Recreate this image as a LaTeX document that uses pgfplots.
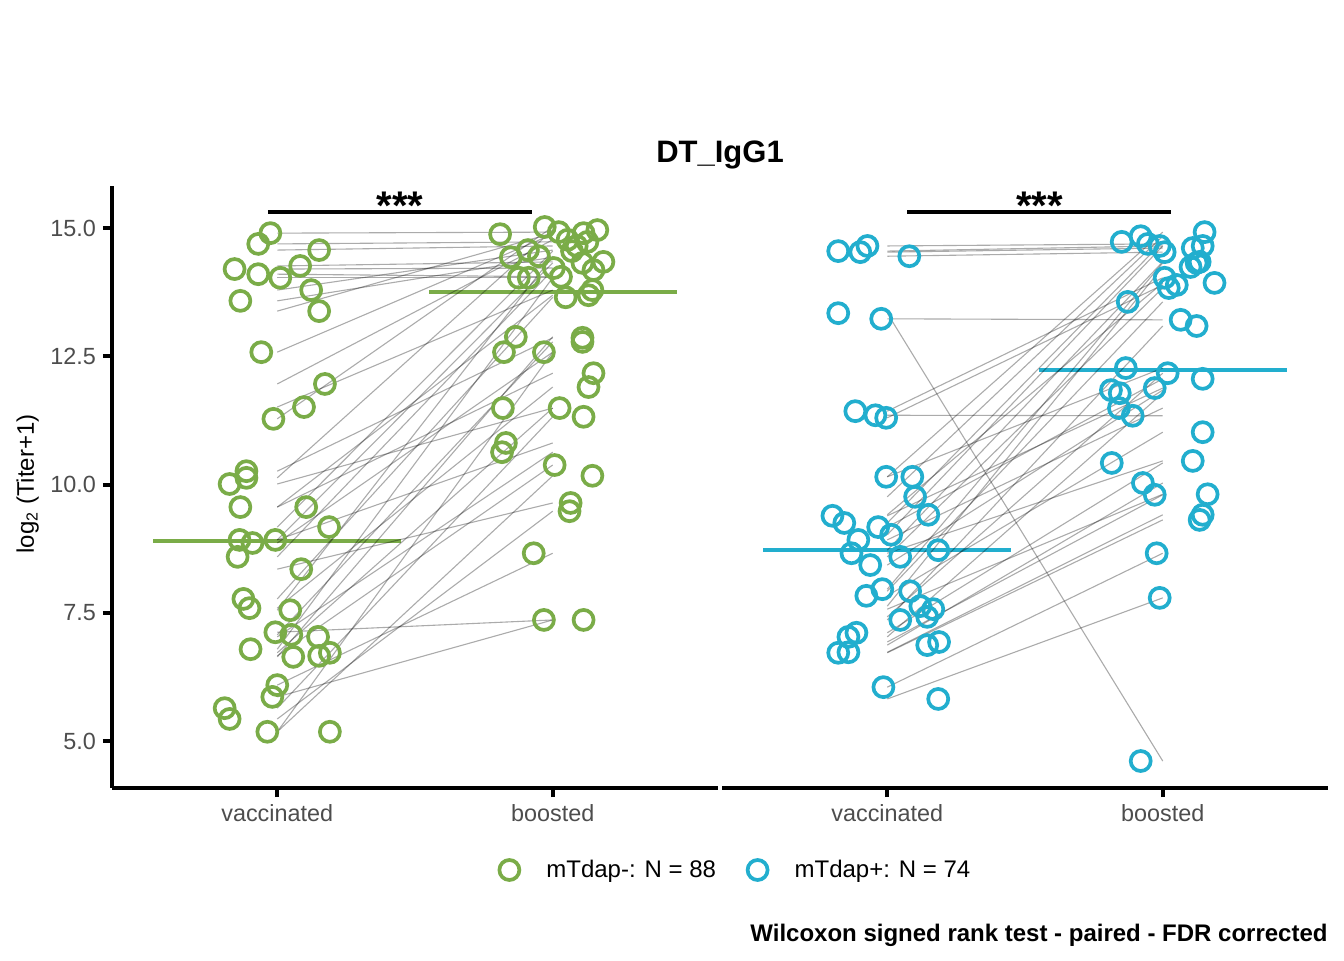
\documentclass[border=0pt]{standalone}
\usepackage{fontspec}
\setmainfont{Liberation Sans}
\usepackage{pgfplots}
\usepackage{pgfplotstable}
\pgfplotsset{compat=1.18}
\definecolor{mgreen}{RGB}{122,172,72}
\definecolor{mblue}{RGB}{34,174,206}
\definecolor{tickgray}{RGB}{77,77,77}

% left panel (mTdap-): jittered x and value at vaccinated (xv,yv) and boosted (xb,yb)
\pgfplotstableread{
xv yv xb yb
-0.025 14.90 1.022 14.92
-0.069 14.69 1.126 14.73
0.152 14.57 1.087 14.65
0.083 14.26 1.184 14.34
-0.155 14.20 1.004 14.22
-0.069 14.10 1.030 14.05
0.011 14.03 0.877 14.03
0.123 13.79 0.910 14.57
-0.134 13.58 0.848 14.43
0.152 13.38 1.112 14.90
-0.058 12.58 0.809 14.88
0.173 11.96 1.054 14.77
0.097 11.51 1.144 13.79
-0.014 11.28 0.971 15.02
-0.112 10.26 1.108 12.86
-0.112 10.13 1.162 14.96
-0.173 10.01 0.819 11.49
-0.134 9.56 1.130 13.69
0.105 9.56 1.148 12.17
0.188 9.17 1.070 14.55
-0.137 8.92 0.830 10.81
-0.007 8.92 1.108 14.32
-0.090 8.86 0.823 12.58
-0.144 8.59 1.148 14.18
0.087 8.35 1.065 9.64
-0.123 7.77 1.047 13.65
-0.101 7.59 1.130 11.90
0.047 7.55 0.950 14.45
-0.007 7.12 0.968 7.36
0.051 7.07 1.108 12.78
0.148 7.03 0.816 10.63
-0.097 6.79 0.913 14.03
0.191 6.72 1.025 11.49
0.152 6.66 1.007 10.38
0.058 6.64 0.866 12.88
0.000 6.09 0.931 8.66
-0.018 5.86 1.112 7.36
-0.191 5.64 1.112 11.32
-0.173 5.43 1.061 9.48
-0.036 5.18 1.144 10.17
0.191 5.18 0.968 12.58
}\pairsL

% right panel (mTdap+)
\pgfplotstableread{
xv yv xb yb
-0.072 14.65 0.946 14.69
-0.178 14.55 1.145 14.65
-0.098 14.53 1.109 14.61
0.080 14.45 1.007 14.53
-0.178 13.34 0.920 4.61
-0.022 13.23 1.065 13.21
-0.116 11.43 1.007 14.03
-0.043 11.35 0.891 11.34
-0.004 11.30 1.051 13.89
-0.004 10.15 1.152 14.92
0.091 10.15 0.866 12.27
0.101 9.76 0.920 14.84
0.149 9.41 1.188 13.93
-0.199 9.39 0.971 11.88
-0.156 9.25 0.851 14.73
-0.033 9.17 1.145 12.06
0.014 9.02 0.989 14.65
-0.105 8.92 0.841 11.49
0.185 8.72 1.134 14.34
-0.130 8.66 1.109 10.46
0.047 8.59 1.022 13.83
-0.062 8.43 0.812 11.84
-0.018 7.96 1.123 14.32
0.083 7.92 0.873 13.56
-0.076 7.83 1.145 11.02
0.120 7.63 1.101 14.24
0.167 7.57 1.163 9.81
0.145 7.42 1.018 12.17
0.047 7.36 1.123 13.09
-0.112 7.11 0.815 10.42
-0.141 7.03 0.844 11.78
0.188 6.93 0.971 9.80
0.145 6.87 0.928 10.03
-0.141 6.73 1.145 9.41
-0.178 6.72 1.134 9.31
-0.014 6.05 0.978 8.66
0.185 5.82 0.989 7.79
}\pairsR

\pgfplotsset{
  panel/.style={
    scale only axis, width=303pt, height=301pt,
    xmin=-0.6, xmax=1.6, ymin=4.084, ymax=15.819,
    clip=false,
    axis x line*=bottom, xtick pos=bottom,
    xtick={0,1}, xticklabels={vaccinated,boosted},
    axis line style={line width=2pt, black},
    tick align=outside, major tick length=4.5pt,
    major tick style={line width=2pt, black},
    tick label style={text=tickgray, font=\fontsize{11.7}{14}\selectfont},
  },
  pts/.style={only marks, mark=o, mark size=5pt, color=#1, mark options={line width=1.85pt, solid}, forget plot},
  pairline/.style={quiver={u=1, v=\thisrow{yb}-\thisrow{yv}}, draw=black, draw opacity=0.33, line width=0.55pt, forget plot},
}

\begin{document}
\begin{tikzpicture}
\path[use as bounding box] (0pt,0pt) rectangle (672pt,480pt);

\node[anchor=base, font=\bfseries\fontsize{15.5}{18}\selectfont] at (360pt,398.5pt) {DT\_IgG1};
\node[anchor=base east, inner sep=0pt, font=\bfseries\fontsize{12}{14}\selectfont] at (664pt,9.25pt) {Wilcoxon signed rank test - paired - FDR corrected};

% ---------------- left panel ----------------
\begin{axis}[panel,
  at={(56pt,86pt)}, anchor=south west,
  axis y line*=left, ytick pos=left,
  ytick={5,7.5,10,12.5,15}, yticklabels={5.0,7.5,10.0,12.5,15.0},
  ylabel={log\textsubscript{2} (Titer+1)},
  ylabel style={at={(axis description cs:-0.139,0.505)}, anchor=center, font=\fontsize{12}{14}\selectfont},
  legend columns=2,
  legend style={at={(0.6386,-0.1362)}, anchor=west, draw=none, fill=none, inner sep=0pt,
    font=\fontsize{12}{14}\selectfont, nodes={inner sep=0pt},
    /tikz/every odd column/.append style={column sep=13.5pt},
    /tikz/every even column/.append style={column sep=15.8pt}},
  legend image code/.code={\draw[#1] plot coordinates {(0pt,0pt)};},
]
\addlegendimage{only marks, mark=o, mark size=5pt, mgreen, mark options={line width=1.85pt, solid}}
\addlegendentry{mTdap-: N = 88}
\addlegendimage{only marks, mark=o, mark size=5pt, mblue, mark options={line width=1.85pt, solid}}
\addlegendentry{mTdap+: N = 74}

\addplot[mgreen, line width=2pt, forget plot] coordinates {(-0.45,8.90) (0.45,8.90)};
\addplot[mgreen, line width=2pt, forget plot] coordinates {(0.55,13.75) (1.45,13.75)};
\addplot[pts=mgreen] table[x=xv, y=yv] {\pairsL};
\addplot[pts=mgreen] table[x=xb, y=yb] {\pairsL};
\addplot[pairline] table[x expr=0, y=yv] {\pairsL};
\addplot[black, line width=2pt, forget plot] coordinates {(-0.034,15.31) (0.924,15.31)};
\node[anchor=base, font=\bfseries\fontsize{20}{24}\selectfont] at (axis cs:0.446,15.17) {***};
\end{axis}

% ---------------- right panel ----------------
\begin{axis}[panel,
  at={(361pt,86pt)}, anchor=south west,
  axis y line=none, ytick=\empty,
]
\addplot[mblue, line width=2pt, forget plot] coordinates {(-0.45,8.72) (0.45,8.72)};
\addplot[mblue, line width=2pt, forget plot] coordinates {(0.55,12.23) (1.45,12.23)};
\addplot[pts=mblue] table[x=xv, y=yv] {\pairsR};
\addplot[pts=mblue] table[x=xb, y=yb] {\pairsR};
\addplot[pairline] table[x expr=0, y=yv] {\pairsR};
\addplot[black, line width=2pt, forget plot] coordinates {(0.072,15.31) (1.030,15.31)};
\node[anchor=base, font=\bfseries\fontsize{20}{24}\selectfont] at (axis cs:0.553,15.17) {***};
\end{axis}
\end{tikzpicture}
\end{document}
